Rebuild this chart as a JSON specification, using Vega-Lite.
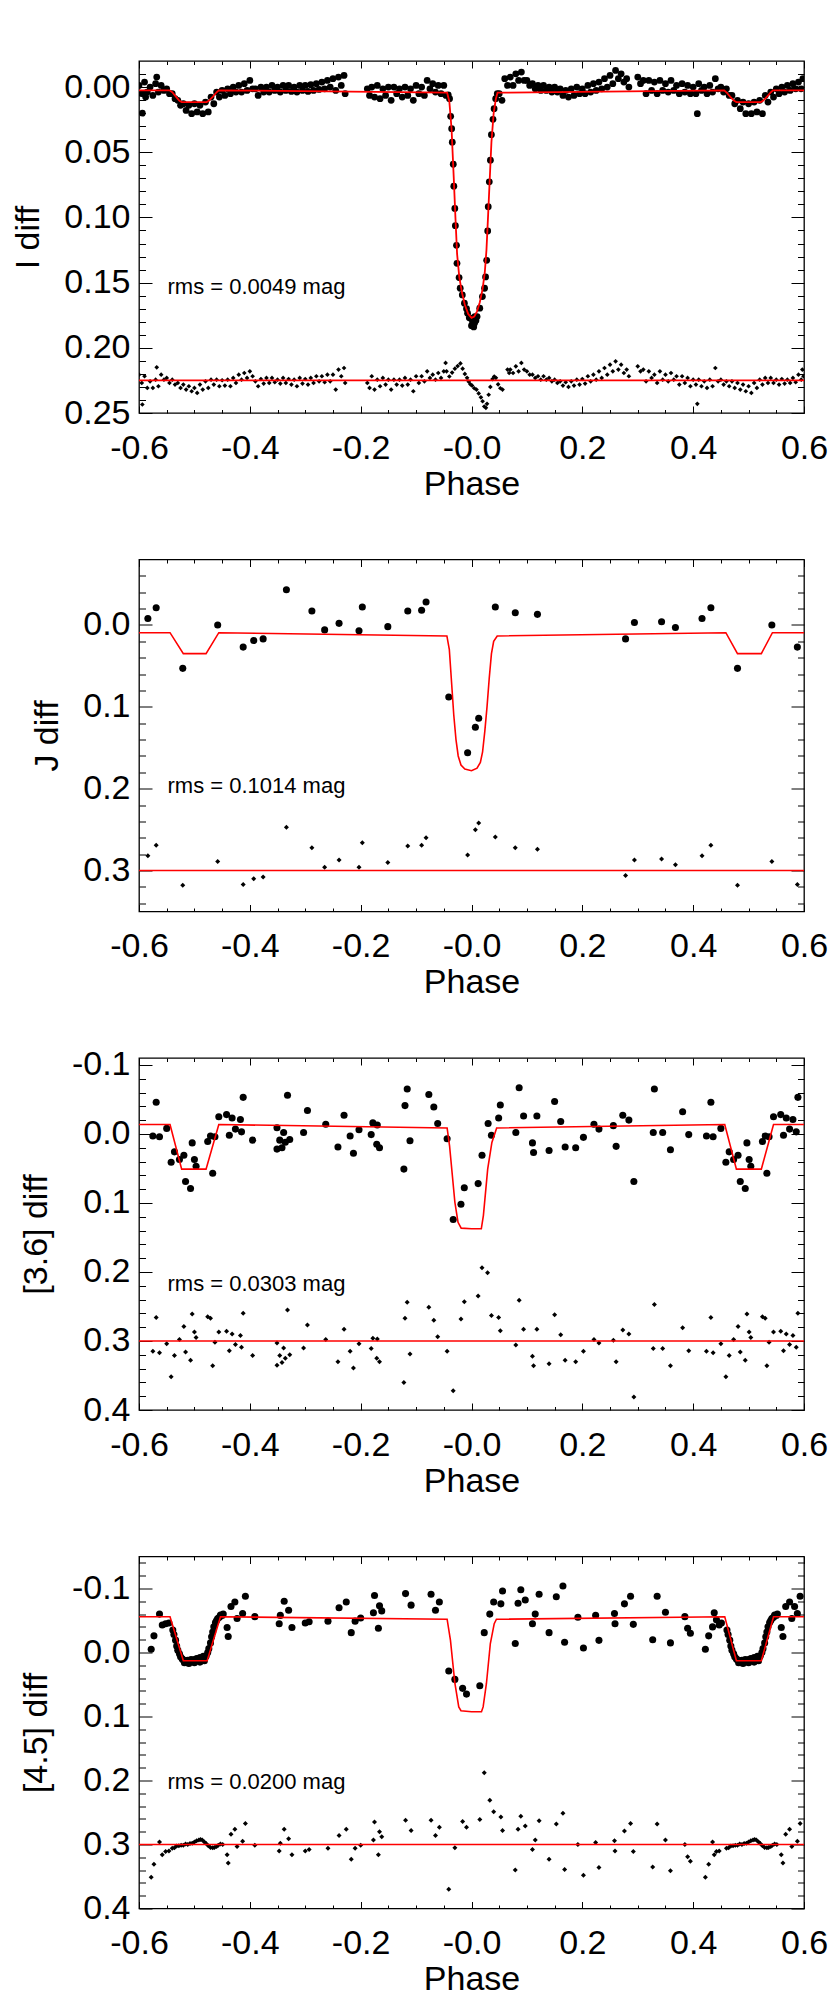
{
"$schema":"https://vega.github.io/schema/vega-lite/v6.json",
"autosize":{"type":"pad"},
"padding":{"left":11,"top":59,"right":0,"bottom":0},
"background":"white",
"bounds":"flush",
"spacing":146.5,
"config":{"axis":{"domain":false,"grid":false,"ticks":true,"tickColor":"black","tickWidth":1,"labelFont":"Liberation Sans","labelFontSize":34,"labelColor":"black","labelFlush":false,"labelOverlap":false,"labelBound":false,"titleFont":"Liberation Sans","titleFontSize":34,"titleFontWeight":"normal","titleColor":"black"},"view":{"stroke":"black","strokeWidth":1.3}},
"datasets":{
"d1":[{"x":-0.6,"y":-0.0013},{"x":-0.595,"y":0.0051},{"x":-0.594,"y":0.02},{"x":-0.59,"y":-0.0038},{"x":-0.585,"y":0.0038},{"x":-0.588,"y":0.0077},{"x":-0.58,"y":0},{"x":-0.575,"y":0.0064},{"x":-0.57,"y":-0.0026},{"x":-0.565,"y":0.0038},{"x":-0.568,"y":-0.0077},{"x":-0.56,"y":-0.0013},{"x":-0.555,"y":0.0026},{"x":-0.55,"y":0.0013},{"x":-0.545,"y":0.0051},{"x":-0.54,"y":0.0051},{"x":-0.535,"y":0.0089},{"x":-0.53,"y":0.0102},{"x":-0.525,"y":0.014},{"x":-0.52,"y":0.0128},{"x":-0.515,"y":0.0179},{"x":-0.51,"y":0.014},{"x":-0.505,"y":0.0204},{"x":-0.5,"y":0.0128},{"x":-0.495,"y":0.0191},{"x":-0.49,"y":0.014},{"x":-0.485,"y":0.0204},{"x":-0.48,"y":0.0115},{"x":-0.475,"y":0.0191},{"x":-0.47,"y":0.0077},{"x":-0.465,"y":0.0128},{"x":-0.46,"y":0.0038},{"x":-0.455,"y":0.0077},{"x":-0.45,"y":0.0026},{"x":-0.445,"y":0.0064},{"x":-0.44,"y":0.0013},{"x":-0.435,"y":0.0051},{"x":-0.43,"y":0},{"x":-0.425,"y":0.0038},{"x":-0.42,"y":-0.0013},{"x":-0.415,"y":0.0038},{"x":-0.41,"y":-0.0026},{"x":-0.405,"y":0.0026},{"x":-0.4,"y":-0.0051},{"x":-0.395,"y":0.0013},{"x":-0.39,"y":0.0013},{"x":-0.385,"y":0.0064},{"x":-0.38,"y":0},{"x":-0.375,"y":0.0038},{"x":-0.37,"y":0},{"x":-0.365,"y":0.0038},{"x":-0.36,"y":-0.0013},{"x":-0.355,"y":0.0026},{"x":-0.35,"y":0},{"x":-0.345,"y":0.0038},{"x":-0.34,"y":-0.0013},{"x":-0.335,"y":0.0026},{"x":-0.33,"y":-0.0013},{"x":-0.325,"y":0.0033},{"x":-0.32,"y":0},{"x":-0.315,"y":0.0038},{"x":-0.31,"y":-0.0013},{"x":-0.305,"y":0.0026},{"x":-0.3,"y":-0.0013},{"x":-0.295,"y":0.0033},{"x":-0.29,"y":-0.0018},{"x":-0.285,"y":0.0026},{"x":-0.28,"y":-0.0026},{"x":-0.275,"y":0.0018},{"x":-0.27,"y":-0.0038},{"x":-0.265,"y":0.0013},{"x":-0.26,"y":-0.0051},{"x":-0.255,"y":0},{"x":-0.25,"y":-0.0064},{"x":-0.245,"y":0.0026},{"x":-0.24,"y":-0.0077},{"x":-0.235,"y":-0.0013},{"x":-0.23,"y":-0.0089},{"x":-0.228,"y":0.0051},{"x":-0.188,"y":0.0013},{"x":-0.184,"y":0.0064},{"x":-0.18,"y":0},{"x":-0.175,"y":0.0077},{"x":-0.17,"y":-0.0013},{"x":-0.165,"y":0.0089},{"x":-0.16,"y":0.0013},{"x":-0.155,"y":0.0064},{"x":-0.15,"y":0},{"x":-0.145,"y":0.0102},{"x":-0.14,"y":0},{"x":-0.135,"y":0.0051},{"x":-0.13,"y":0.0013},{"x":-0.125,"y":0.0077},{"x":-0.12,"y":0},{"x":-0.115,"y":0.0064},{"x":-0.11,"y":0.0013},{"x":-0.105,"y":0.0102},{"x":-0.1,"y":-0.0013},{"x":-0.095,"y":0.0051},{"x":-0.09,"y":0},{"x":-0.085,"y":0.0064},{"x":-0.08,"y":-0.0051},{"x":-0.075,"y":0.0013},{"x":-0.07,"y":-0.0026},{"x":-0.065,"y":0.0038},{"x":-0.06,"y":-0.0013},{"x":-0.055,"y":0.0051},{"x":-0.05,"y":-0.0013},{"x":-0.046,"y":0.0064},{"x":-0.042,"y":0.006},{"x":-0.0396,"y":0.0089},{"x":-0.0376,"y":0.0224},{"x":-0.0358,"y":0.0319},{"x":-0.0347,"y":0.0423},{"x":-0.0329,"y":0.0592},{"x":-0.0319,"y":0.076},{"x":-0.0301,"y":0.0931},{"x":-0.0291,"y":0.1063},{"x":-0.0271,"y":0.1214},{"x":-0.0262,"y":0.1352},{"x":-0.0224,"y":0.1461},{"x":-0.0204,"y":0.1543},{"x":-0.0166,"y":0.1594},{"x":-0.0128,"y":0.1658},{"x":-0.009,"y":0.17},{"x":-0.0071,"y":0.1734},{"x":-0.004,"y":0.177},{"x":-0.0013,"y":0.1773},{"x":0,"y":0.183},{"x":0.002,"y":0.18},{"x":0.004,"y":0.184},{"x":0.0054,"y":0.1811},{"x":0.006,"y":0.176},{"x":0.008,"y":0.179},{"x":0.0101,"y":0.176},{"x":0.0149,"y":0.1696},{"x":0.0197,"y":0.1607},{"x":0.0236,"y":0.1543},{"x":0.0254,"y":0.1456},{"x":0.0274,"y":0.1329},{"x":0.0292,"y":0.1104},{"x":0.0302,"y":0.0918},{"x":0.0321,"y":0.0727},{"x":0.0341,"y":0.0561},{"x":0.0359,"y":0.0365},{"x":0.0388,"y":0.0247},{"x":0.0408,"y":0.0166},{"x":0.0436,"y":0.0089},{"x":0.0465,"y":0.0051},{"x":0.05,"y":0.0051},{"x":0.055,"y":0.0102},{"x":0.06,"y":-0.0064},{"x":0.065,"y":-0.0013},{"x":0.07,"y":-0.0077},{"x":0.075,"y":-0.0013},{"x":0.08,"y":-0.0102},{"x":0.085,"y":-0.0051},{"x":0.09,"y":-0.0115},{"x":0.095,"y":-0.0051},{"x":0.1,"y":-0.0051},{"x":0.105,"y":-0.0013},{"x":0.11,"y":-0.0026},{"x":0.115,"y":0.0013},{"x":0.12,"y":-0.0013},{"x":0.125,"y":0.0026},{"x":0.13,"y":-0.0013},{"x":0.135,"y":0.0026},{"x":0.14,"y":0},{"x":0.145,"y":0.0038},{"x":0.15,"y":0},{"x":0.155,"y":0.0038},{"x":0.16,"y":0.0013},{"x":0.165,"y":0.0064},{"x":0.17,"y":0.0026},{"x":0.175,"y":0.0077},{"x":0.18,"y":0.0013},{"x":0.185,"y":0.0064},{"x":0.19,"y":0},{"x":0.195,"y":0.0051},{"x":0.2,"y":0.0013},{"x":0.205,"y":0.0051},{"x":0.21,"y":-0.0013},{"x":0.215,"y":0.0038},{"x":0.22,"y":-0.0026},{"x":0.225,"y":0.0026},{"x":0.23,"y":-0.0038},{"x":0.235,"y":0.0013},{"x":0.24,"y":-0.0064},{"x":0.245,"y":0},{"x":0.25,"y":-0.0089},{"x":0.255,"y":-0.0026},{"x":0.26,"y":-0.0128},{"x":0.265,"y":-0.0064},{"x":0.27,"y":-0.0102},{"x":0.275,"y":-0.0038},{"x":0.28,"y":-0.0064},{"x":0.284,"y":0},{"x":0.3,"y":-0.0077},{"x":0.305,"y":-0.0026},{"x":0.31,"y":-0.0051},{"x":0.315,"y":0.0051},{"x":0.32,"y":-0.0051},{"x":0.325,"y":0.0026},{"x":0.33,"y":-0.0038},{"x":0.335,"y":0.0051},{"x":0.34,"y":-0.0051},{"x":0.345,"y":0.0026},{"x":0.35,"y":-0.0026},{"x":0.355,"y":0.0038},{"x":0.36,"y":-0.0051},{"x":0.365,"y":0.0026},{"x":0.37,"y":-0.0013},{"x":0.375,"y":0.0051},{"x":0.38,"y":-0.0026},{"x":0.385,"y":0.0038},{"x":0.39,"y":-0.0013},{"x":0.395,"y":0.0051},{"x":0.4,"y":0},{"x":0.405,"y":0.0051},{"x":0.41,"y":-0.0026},{"x":0.415,"y":0.0026},{"x":0.4075,"y":0.0204},{"x":0.42,"y":0},{"x":0.425,"y":0.0051},{"x":0.43,"y":-0.0013},{"x":0.435,"y":0.0038},{"x":0.44,"y":-0.0064},{"x":0.445,"y":0.0013},{"x":0.45,"y":0},{"x":0.455,"y":0.0038},{"x":0.46,"y":0.0013},{"x":0.465,"y":0.0064},{"x":0.47,"y":0.0064},{"x":0.475,"y":0.0128},{"x":0.48,"y":0.0102},{"x":0.485,"y":0.0166},{"x":0.49,"y":0.0115},{"x":0.495,"y":0.0204},{"x":0.5,"y":0.0128},{"x":0.505,"y":0.0204},{"x":0.51,"y":0.0115},{"x":0.515,"y":0.0191},{"x":0.52,"y":0.0102},{"x":0.525,"y":0.0204},{"x":0.53,"y":0.0064},{"x":0.535,"y":0.0115},{"x":0.54,"y":0.0038},{"x":0.545,"y":0.0077},{"x":0.55,"y":0.0013},{"x":0.555,"y":0.0051},{"x":0.56,"y":0},{"x":0.565,"y":0.0038},{"x":0.57,"y":-0.0013},{"x":0.575,"y":0.0026},{"x":0.58,"y":-0.0026},{"x":0.585,"y":0.0013},{"x":0.59,"y":-0.0038},{"x":0.595,"y":0.0013},{"x":0.598,"y":-0.0064}],
"r1":[{"x":-0.6,"y":0.2206},{"x":-0.595,"y":0.2269},{"x":-0.594,"y":0.2435},{"x":-0.59,"y":0.2218},{"x":-0.585,"y":0.2308},{"x":-0.58,"y":0.2257},{"x":-0.575,"y":0.2308},{"x":-0.57,"y":0.2244},{"x":-0.565,"y":0.2295},{"x":-0.568,"y":0.215},{"x":-0.56,"y":0.2206},{"x":-0.555,"y":0.2244},{"x":-0.55,"y":0.2231},{"x":-0.545,"y":0.2269},{"x":-0.54,"y":0.2244},{"x":-0.535,"y":0.2282},{"x":-0.53,"y":0.2269},{"x":-0.525,"y":0.2308},{"x":-0.52,"y":0.2282},{"x":-0.515,"y":0.232},{"x":-0.51,"y":0.2295},{"x":-0.505,"y":0.2333},{"x":-0.5,"y":0.2308},{"x":-0.495,"y":0.2346},{"x":-0.49,"y":0.2282},{"x":-0.485,"y":0.232},{"x":-0.48,"y":0.2257},{"x":-0.475,"y":0.2308},{"x":-0.47,"y":0.2244},{"x":-0.465,"y":0.2282},{"x":-0.46,"y":0.2244},{"x":-0.455,"y":0.2295},{"x":-0.45,"y":0.2249},{"x":-0.445,"y":0.229},{"x":-0.44,"y":0.2244},{"x":-0.435,"y":0.2295},{"x":-0.43,"y":0.2231},{"x":-0.425,"y":0.2269},{"x":-0.42,"y":0.2206},{"x":-0.415,"y":0.2244},{"x":-0.41,"y":0.2193},{"x":-0.405,"y":0.2231},{"x":-0.4,"y":0.218},{"x":-0.395,"y":0.2218},{"x":-0.39,"y":0.2257},{"x":-0.385,"y":0.2295},{"x":-0.38,"y":0.2239},{"x":-0.375,"y":0.2274},{"x":-0.37,"y":0.2231},{"x":-0.365,"y":0.2269},{"x":-0.36,"y":0.2231},{"x":-0.355,"y":0.2264},{"x":-0.35,"y":0.2244},{"x":-0.345,"y":0.2274},{"x":-0.34,"y":0.2231},{"x":-0.335,"y":0.2269},{"x":-0.33,"y":0.2239},{"x":-0.325,"y":0.2282},{"x":-0.32,"y":0.2244},{"x":-0.315,"y":0.2295},{"x":-0.31,"y":0.2231},{"x":-0.305,"y":0.2274},{"x":-0.3,"y":0.2239},{"x":-0.295,"y":0.2282},{"x":-0.29,"y":0.2231},{"x":-0.285,"y":0.2269},{"x":-0.28,"y":0.2218},{"x":-0.275,"y":0.2257},{"x":-0.27,"y":0.2218},{"x":-0.265,"y":0.2264},{"x":-0.26,"y":0.2206},{"x":-0.255,"y":0.2257},{"x":-0.25,"y":0.2206},{"x":-0.245,"y":0.232},{"x":-0.24,"y":0.2167},{"x":-0.235,"y":0.2218},{"x":-0.23,"y":0.2155},{"x":-0.228,"y":0.2269},{"x":-0.188,"y":0.2269},{"x":-0.184,"y":0.2308},{"x":-0.18,"y":0.2218},{"x":-0.175,"y":0.232},{"x":-0.17,"y":0.2244},{"x":-0.165,"y":0.2295},{"x":-0.16,"y":0.2231},{"x":-0.155,"y":0.2282},{"x":-0.15,"y":0.2244},{"x":-0.145,"y":0.232},{"x":-0.14,"y":0.2244},{"x":-0.135,"y":0.2282},{"x":-0.13,"y":0.2244},{"x":-0.125,"y":0.229},{"x":-0.12,"y":0.2231},{"x":-0.115,"y":0.2282},{"x":-0.11,"y":0.2244},{"x":-0.105,"y":0.2333},{"x":-0.1,"y":0.2218},{"x":-0.095,"y":0.2269},{"x":-0.09,"y":0.2218},{"x":-0.085,"y":0.2257},{"x":-0.08,"y":0.218},{"x":-0.075,"y":0.2231},{"x":-0.07,"y":0.2206},{"x":-0.065,"y":0.2244},{"x":-0.06,"y":0.2193},{"x":-0.055,"y":0.2231},{"x":-0.05,"y":0.218},{"x":-0.0467,"y":0.2116},{"x":-0.045,"y":0.218},{"x":-0.04,"y":0.222},{"x":-0.035,"y":0.219},{"x":-0.03,"y":0.216},{"x":-0.025,"y":0.214},{"x":-0.02,"y":0.212},{"x":-0.016,"y":0.216},{"x":-0.012,"y":0.22},{"x":-0.008,"y":0.223},{"x":-0.005,"y":0.226},{"x":-0.002,"y":0.228},{"x":0.001,"y":0.229},{"x":0.005,"y":0.231},{"x":0.009,"y":0.232},{"x":0.013,"y":0.235},{"x":0.017,"y":0.238},{"x":0.02,"y":0.241},{"x":0.023,"y":0.245},{"x":0.026,"y":0.246},{"x":0.028,"y":0.243},{"x":0.031,"y":0.236},{"x":0.034,"y":0.23},{"x":0.038,"y":0.224},{"x":0.041,"y":0.222},{"x":0.044,"y":0.223},{"x":0.048,"y":0.228},{"x":0.052,"y":0.231},{"x":0.056,"y":0.232},{"x":0.065,"y":0.2167},{"x":0.068,"y":0.2193},{"x":0.07,"y":0.2167},{"x":0.075,"y":0.2193},{"x":0.08,"y":0.2142},{"x":0.085,"y":0.218},{"x":0.09,"y":0.2116},{"x":0.095,"y":0.2167},{"x":0.1,"y":0.218},{"x":0.105,"y":0.2206},{"x":0.11,"y":0.2206},{"x":0.115,"y":0.2231},{"x":0.12,"y":0.2218},{"x":0.125,"y":0.2244},{"x":0.13,"y":0.2218},{"x":0.135,"y":0.2244},{"x":0.14,"y":0.2231},{"x":0.145,"y":0.2257},{"x":0.15,"y":0.2244},{"x":0.155,"y":0.2269},{"x":0.16,"y":0.2257},{"x":0.165,"y":0.229},{"x":0.17,"y":0.2264},{"x":0.175,"y":0.23},{"x":0.18,"y":0.2257},{"x":0.185,"y":0.229},{"x":0.19,"y":0.2244},{"x":0.195,"y":0.2282},{"x":0.2,"y":0.2239},{"x":0.205,"y":0.2274},{"x":0.21,"y":0.2218},{"x":0.215,"y":0.2257},{"x":0.22,"y":0.2206},{"x":0.225,"y":0.2244},{"x":0.23,"y":0.218},{"x":0.235,"y":0.2231},{"x":0.24,"y":0.2155},{"x":0.245,"y":0.2206},{"x":0.25,"y":0.2129},{"x":0.255,"y":0.218},{"x":0.26,"y":0.2104},{"x":0.265,"y":0.2167},{"x":0.27,"y":0.2129},{"x":0.275,"y":0.2193},{"x":0.28,"y":0.2167},{"x":0.284,"y":0.2218},{"x":0.3,"y":0.2142},{"x":0.305,"y":0.218},{"x":0.31,"y":0.2167},{"x":0.315,"y":0.2257},{"x":0.32,"y":0.218},{"x":0.325,"y":0.2231},{"x":0.33,"y":0.2206},{"x":0.335,"y":0.2269},{"x":0.34,"y":0.218},{"x":0.345,"y":0.2244},{"x":0.35,"y":0.2206},{"x":0.355,"y":0.2257},{"x":0.36,"y":0.2193},{"x":0.365,"y":0.2244},{"x":0.37,"y":0.2218},{"x":0.375,"y":0.2282},{"x":0.38,"y":0.2218},{"x":0.385,"y":0.2269},{"x":0.39,"y":0.2231},{"x":0.395,"y":0.2295},{"x":0.4,"y":0.2244},{"x":0.405,"y":0.2282},{"x":0.41,"y":0.2244},{"x":0.415,"y":0.2295},{"x":0.4075,"y":0.243},{"x":0.42,"y":0.2257},{"x":0.425,"y":0.2308},{"x":0.43,"y":0.2244},{"x":0.435,"y":0.2295},{"x":0.44,"y":0.2155},{"x":0.445,"y":0.2257},{"x":0.45,"y":0.2244},{"x":0.455,"y":0.2282},{"x":0.46,"y":0.2257},{"x":0.465,"y":0.2295},{"x":0.47,"y":0.2257},{"x":0.475,"y":0.2308},{"x":0.48,"y":0.2269},{"x":0.485,"y":0.232},{"x":0.49,"y":0.2282},{"x":0.495,"y":0.2333},{"x":0.5,"y":0.2295},{"x":0.505,"y":0.2346},{"x":0.51,"y":0.2269},{"x":0.515,"y":0.2308},{"x":0.52,"y":0.2244},{"x":0.525,"y":0.2282},{"x":0.53,"y":0.2231},{"x":0.535,"y":0.2269},{"x":0.54,"y":0.2231},{"x":0.545,"y":0.2269},{"x":0.55,"y":0.2244},{"x":0.555,"y":0.2282},{"x":0.56,"y":0.2239},{"x":0.565,"y":0.2274},{"x":0.57,"y":0.2244},{"x":0.575,"y":0.2269},{"x":0.58,"y":0.2231},{"x":0.585,"y":0.2264},{"x":0.59,"y":0.2206},{"x":0.595,"y":0.2244},{"x":0.597,"y":0.2167},{"x":0.599,"y":0.2218}],
"m1":[{"x":-0.6,"y":0.0025},{"x":-0.545,"y":0.0025},{"x":-0.54,"y":0.004},{"x":-0.533,"y":0.0075},{"x":-0.527,"y":0.0105},{"x":-0.523,"y":0.0115},{"x":-0.478,"y":0.0115},{"x":-0.474,"y":0.0105},{"x":-0.467,"y":0.0075},{"x":-0.46,"y":0.004},{"x":-0.456,"y":0.0025},{"x":-0.044,"y":0.0043},{"x":-0.04,"y":0.011},{"x":-0.036,"y":0.032},{"x":-0.032,"y":0.07},{"x":-0.029,"y":0.1},{"x":-0.026,"y":0.128},{"x":-0.022,"y":0.146},{"x":-0.017,"y":0.158},{"x":-0.012,"y":0.167},{"x":-0.006,"y":0.174},{"x":0,"y":0.177},{"x":0.005,"y":0.176},{"x":0.01,"y":0.172},{"x":0.015,"y":0.165},{"x":0.02,"y":0.155},{"x":0.024,"y":0.142},{"x":0.027,"y":0.125},{"x":0.03,"y":0.098},{"x":0.033,"y":0.07},{"x":0.036,"y":0.042},{"x":0.04,"y":0.02},{"x":0.044,"y":0.009},{"x":0.047,"y":0.0043},{"x":0.456,"y":0.0025},{"x":0.46,"y":0.004},{"x":0.467,"y":0.0075},{"x":0.474,"y":0.0105},{"x":0.478,"y":0.0115},{"x":0.522,"y":0.0115},{"x":0.526,"y":0.0105},{"x":0.533,"y":0.0075},{"x":0.54,"y":0.004},{"x":0.544,"y":0.0025},{"x":0.6,"y":0.0025}],
"d2":[{"x":-0.584,"y":-0.008},{"x":-0.569,"y":-0.021},{"x":-0.521,"y":0.053},{"x":-0.458,"y":0.0},{"x":-0.412,"y":0.027},{"x":-0.393,"y":0.019},{"x":-0.376,"y":0.017},{"x":-0.334,"y":-0.043},{"x":-0.288,"y":-0.017},{"x":-0.265,"y":0.006},{"x":-0.239,"y":-0.002},{"x":-0.203,"y":0.007},{"x":-0.197,"y":-0.022},{"x":-0.151,"y":0.002},{"x":-0.115,"y":-0.017},{"x":-0.09,"y":-0.018},{"x":-0.082,"y":-0.028},{"x":-0.041,"y":0.088},{"x":-0.007,"y":0.156},{"x":0.007,"y":0.125},{"x":0.013,"y":0.114},{"x":0.043,"y":-0.022},{"x":0.079,"y":-0.015},{"x":0.119,"y":-0.013},{"x":0.278,"y":0.017},{"x":0.294,"y":-0.003},{"x":0.343,"y":-0.004},{"x":0.368,"y":0.003},{"x":0.416,"y":-0.008},{"x":0.432,"y":-0.021},{"x":0.48,"y":0.053},{"x":0.542,"y":0.0},{"x":0.588,"y":0.027}],
"r2":[{"x":-0.584,"y":0.282},{"x":-0.569,"y":0.269},{"x":-0.521,"y":0.318},{"x":-0.458,"y":0.289},{"x":-0.412,"y":0.317},{"x":-0.393,"y":0.31},{"x":-0.376,"y":0.308},{"x":-0.334,"y":0.247},{"x":-0.288,"y":0.272},{"x":-0.265,"y":0.296},{"x":-0.239,"y":0.287},{"x":-0.203,"y":0.296},{"x":-0.197,"y":0.266},{"x":-0.151,"y":0.29},{"x":-0.115,"y":0.27},{"x":-0.09,"y":0.269},{"x":-0.082,"y":0.26},{"x":-0.007,"y":0.281},{"x":0.007,"y":0.25},{"x":0.013,"y":0.242},{"x":0.043,"y":0.259},{"x":0.079,"y":0.272},{"x":0.119,"y":0.274},{"x":0.278,"y":0.306},{"x":0.294,"y":0.287},{"x":0.343,"y":0.286},{"x":0.368,"y":0.293},{"x":0.416,"y":0.282},{"x":0.432,"y":0.269},{"x":0.48,"y":0.318},{"x":0.542,"y":0.289},{"x":0.588,"y":0.317}],
"m2":[{"x":-0.6,"y":0.0094},{"x":-0.544,"y":0.0094},{"x":-0.52,"y":0.035},{"x":-0.479,"y":0.035},{"x":-0.456,"y":0.0094},{"x":-0.0444,"y":0.0134},{"x":-0.04,"y":0.03},{"x":-0.036,"y":0.07},{"x":-0.032,"y":0.11},{"x":-0.028,"y":0.14},{"x":-0.024,"y":0.16},{"x":-0.019,"y":0.171},{"x":-0.012,"y":0.176},{"x":0,"y":0.178},{"x":0.01,"y":0.175},{"x":0.016,"y":0.168},{"x":0.02,"y":0.155},{"x":0.024,"y":0.13},{"x":0.028,"y":0.1},{"x":0.032,"y":0.065},{"x":0.036,"y":0.035},{"x":0.04,"y":0.02},{"x":0.0464,"y":0.0134},{"x":0.459,"y":0.0094},{"x":0.48,"y":0.035},{"x":0.523,"y":0.035},{"x":0.543,"y":0.0094},{"x":0.6,"y":0.0094}],
"d3":[{"x":-0.575,"y":0.003},{"x":-0.569,"y":-0.046},{"x":-0.563,"y":0.004},{"x":-0.55,"y":-0.008},{"x":-0.542,"y":0.041},{"x":-0.536,"y":0.026},{"x":-0.527,"y":0.037},{"x":-0.519,"y":0.031},{"x":-0.516,"y":0.069},{"x":-0.507,"y":0.079},{"x":-0.504,"y":0.013},{"x":-0.5,"y":0.037},{"x":-0.497,"y":0.047},{"x":-0.476,"y":0.011},{"x":-0.471,"y":0.003},{"x":-0.467,"y":0.057},{"x":-0.463,"y":0.004},{"x":-0.456,"y":-0.025},{"x":-0.442,"y":-0.028},{"x":-0.437,"y":0.002},{"x":-0.432,"y":-0.023},{"x":-0.426,"y":-0.007},{"x":-0.417,"y":-0.021},{"x":-0.412,"y":-0.053},{"x":-0.415,"y":-0.003},{"x":-0.395,"y":0.009},{"x":-0.351,"y":-0.009},{"x":-0.351,"y":0.022},{"x":-0.346,"y":0.009},{"x":-0.342,"y":0.02},{"x":-0.339,"y":-0.002},{"x":-0.336,"y":0.012},{"x":-0.332,"y":-0.056},{"x":-0.328,"y":0.008},{"x":-0.303,"y":-0.002},{"x":-0.296,"y":-0.034},{"x":-0.263,"y":-0.014},{"x":-0.241,"y":0.019},{"x":-0.23,"y":-0.027},{"x":-0.219,"y":0.003},{"x":-0.213,"y":0.028},{"x":-0.203,"y":-0.006},{"x":-0.181,"y":0.001},{"x":-0.178,"y":-0.016},{"x":-0.171,"y":0.015},{"x":-0.17,"y":-0.013},{"x":-0.166,"y":0.02},{"x":-0.122,"y":0.051},{"x":-0.12,"y":-0.041},{"x":-0.116,"y":-0.065},{"x":-0.111,"y":0.01},{"x":-0.077,"y":-0.057},{"x":-0.068,"y":-0.039},{"x":-0.061,"y":-0.015},{"x":-0.044,"y":0.007},{"x":-0.033,"y":0.124},{"x":-0.019,"y":0.102},{"x":-0.013,"y":0.078},{"x":0.012,"y":0.072},{"x":0.019,"y":0.031},{"x":0.03,"y":-0.015},{"x":0.036,"y":0.002},{"x":0.049,"y":-0.023},{"x":0.052,"y":-0.042},{"x":0.08,"y":-0.002},{"x":0.086,"y":-0.067},{"x":0.094,"y":-0.026},{"x":0.11,"y":0.013},{"x":0.112,"y":0.027},{"x":0.118,"y":-0.026},{"x":0.14,"y":0.024},{"x":0.15,"y":-0.047},{"x":0.161,"y":-0.018},{"x":0.169,"y":0.019},{"x":0.188,"y":0.02},{"x":0.202,"y":0.005},{"x":0.221,"y":-0.014},{"x":0.23,"y":-0.007},{"x":0.256,"y":-0.012},{"x":0.261,"y":0.018},{"x":0.273,"y":-0.027},{"x":0.284,"y":-0.02},{"x":0.293,"y":0.069},{"x":0.328,"y":-0.002},{"x":0.33,"y":-0.065},{"x":0.345,"y":-0.002},{"x":0.359,"y":0.023},{"x":0.381,"y":-0.032},{"x":0.392,"y":0.001},{"x":0.424,"y":0.003},{"x":0.432,"y":-0.046},{"x":0.436,"y":0.004},{"x":0.45,"y":-0.008},{"x":0.459,"y":0.041},{"x":0.465,"y":0.026},{"x":0.473,"y":0.037},{"x":0.481,"y":0.031},{"x":0.485,"y":0.069},{"x":0.494,"y":0.079},{"x":0.497,"y":0.013},{"x":0.501,"y":0.037},{"x":0.504,"y":0.047},{"x":0.525,"y":0.011},{"x":0.53,"y":0.003},{"x":0.533,"y":0.057},{"x":0.537,"y":0.004},{"x":0.545,"y":-0.025},{"x":0.558,"y":-0.028},{"x":0.563,"y":0.002},{"x":0.568,"y":-0.023},{"x":0.574,"y":-0.007},{"x":0.58,"y":-0.021},{"x":0.589,"y":-0.053},{"x":0.586,"y":-0.003}],
"r3":[{"x":-0.575,"y":0.315},{"x":-0.569,"y":0.266},{"x":-0.563,"y":0.317},{"x":-0.55,"y":0.304},{"x":-0.542,"y":0.352},{"x":-0.536,"y":0.321},{"x":-0.527,"y":0.298},{"x":-0.519,"y":0.279},{"x":-0.516,"y":0.316},{"x":-0.507,"y":0.328},{"x":-0.504,"y":0.261},{"x":-0.5,"y":0.287},{"x":-0.497,"y":0.295},{"x":-0.476,"y":0.265},{"x":-0.471,"y":0.267},{"x":-0.467,"y":0.336},{"x":-0.463,"y":0.302},{"x":-0.456,"y":0.287},{"x":-0.442,"y":0.286},{"x":-0.437,"y":0.314},{"x":-0.432,"y":0.29},{"x":-0.426,"y":0.305},{"x":-0.417,"y":0.292},{"x":-0.412,"y":0.26},{"x":-0.415,"y":0.309},{"x":-0.395,"y":0.321},{"x":-0.351,"y":0.303},{"x":-0.351,"y":0.335},{"x":-0.346,"y":0.321},{"x":-0.342,"y":0.331},{"x":-0.339,"y":0.31},{"x":-0.336,"y":0.325},{"x":-0.332,"y":0.255},{"x":-0.328,"y":0.32},{"x":-0.303,"y":0.31},{"x":-0.296,"y":0.277},{"x":-0.263,"y":0.298},{"x":-0.241,"y":0.33},{"x":-0.23,"y":0.283},{"x":-0.219,"y":0.315},{"x":-0.213,"y":0.339},{"x":-0.203,"y":0.304},{"x":-0.181,"y":0.311},{"x":-0.178,"y":0.296},{"x":-0.171,"y":0.325},{"x":-0.17,"y":0.297},{"x":-0.166,"y":0.33},{"x":-0.122,"y":0.36},{"x":-0.12,"y":0.267},{"x":-0.116,"y":0.244},{"x":-0.111,"y":0.319},{"x":-0.077,"y":0.251},{"x":-0.068,"y":0.27},{"x":-0.061,"y":0.294},{"x":-0.044,"y":0.315},{"x":-0.033,"y":0.372},{"x":-0.019,"y":0.268},{"x":-0.013,"y":0.243},{"x":0.012,"y":0.235},{"x":0.019,"y":0.194},{"x":0.029,"y":0.201},{"x":0.036,"y":0.263},{"x":0.049,"y":0.266},{"x":0.052,"y":0.285},{"x":0.08,"y":0.306},{"x":0.086,"y":0.241},{"x":0.094,"y":0.283},{"x":0.11,"y":0.322},{"x":0.112,"y":0.336},{"x":0.118,"y":0.283},{"x":0.14,"y":0.333},{"x":0.15,"y":0.262},{"x":0.161,"y":0.291},{"x":0.169,"y":0.328},{"x":0.188,"y":0.33},{"x":0.202,"y":0.315},{"x":0.221,"y":0.298},{"x":0.23,"y":0.303},{"x":0.256,"y":0.299},{"x":0.261,"y":0.33},{"x":0.273,"y":0.284},{"x":0.284,"y":0.29},{"x":0.293,"y":0.381},{"x":0.328,"y":0.311},{"x":0.33,"y":0.247},{"x":0.345,"y":0.311},{"x":0.359,"y":0.336},{"x":0.381,"y":0.281},{"x":0.392,"y":0.314},{"x":0.424,"y":0.315},{"x":0.432,"y":0.266},{"x":0.436,"y":0.317},{"x":0.45,"y":0.304},{"x":0.459,"y":0.352},{"x":0.465,"y":0.321},{"x":0.473,"y":0.298},{"x":0.481,"y":0.279},{"x":0.485,"y":0.316},{"x":0.494,"y":0.328},{"x":0.497,"y":0.261},{"x":0.501,"y":0.287},{"x":0.504,"y":0.295},{"x":0.525,"y":0.265},{"x":0.53,"y":0.267},{"x":0.533,"y":0.336},{"x":0.537,"y":0.302},{"x":0.545,"y":0.287},{"x":0.558,"y":0.286},{"x":0.563,"y":0.314},{"x":0.568,"y":0.29},{"x":0.574,"y":0.305},{"x":0.58,"y":0.292},{"x":0.589,"y":0.26},{"x":0.586,"y":0.309}],
"m3":[{"x":-0.6,"y":-0.0136},{"x":-0.544,"y":-0.0136},{"x":-0.523,"y":0.051},{"x":-0.479,"y":0.051},{"x":-0.456,"y":-0.0136},{"x":-0.044,"y":-0.0087},{"x":-0.0396,"y":0.0172},{"x":-0.03,"y":0.099},{"x":-0.0243,"y":0.128},{"x":-0.0186,"y":0.1365},{"x":0,"y":0.1375},{"x":0.0177,"y":0.1375},{"x":0.0215,"y":0.118},{"x":0.0292,"y":0.051},{"x":0.0368,"y":0.0124},{"x":0.0454,"y":-0.0087},{"x":0.457,"y":-0.0136},{"x":0.478,"y":0.051},{"x":0.523,"y":0.051},{"x":0.545,"y":-0.0136},{"x":0.6,"y":-0.0136}],
"d4":[{"x":-0.578,"y":-0.005},{"x":-0.573,"y":-0.026},{"x":-0.563,"y":-0.06},{"x":-0.558,"y":-0.043},{"x":-0.552,"y":-0.045},{"x":-0.546,"y":-0.046},{"x":-0.539,"y":-0.035},{"x":-0.537,"y":-0.028},{"x":-0.534,"y":-0.0193},{"x":-0.532,"y":-0.01},{"x":-0.53,"y":-0.0037},{"x":-0.527,"y":0.002},{"x":-0.525,"y":0.0067},{"x":-0.522,"y":0.01},{"x":-0.52,"y":0.0119},{"x":-0.517,"y":0.013},{"x":-0.515,"y":0.014},{"x":-0.512,"y":0.012},{"x":-0.509,"y":0.013},{"x":-0.506,"y":0.0109},{"x":-0.503,"y":0.013},{"x":-0.5,"y":0.011},{"x":-0.496,"y":0.0093},{"x":-0.493,"y":0.012},{"x":-0.49,"y":0.008},{"x":-0.487,"y":0.0093},{"x":-0.484,"y":0.006},{"x":-0.481,"y":0.008},{"x":-0.479,"y":0.0057},{"x":-0.476,"y":0.0},{"x":-0.474,"y":-0.006},{"x":-0.471,"y":-0.015},{"x":-0.469,"y":-0.0246},{"x":-0.467,"y":-0.032},{"x":-0.465,"y":-0.0402},{"x":-0.462,"y":-0.047},{"x":-0.46,"y":-0.05},{"x":-0.458,"y":-0.0532},{"x":-0.455,"y":-0.055},{"x":-0.453,"y":-0.0584},{"x":-0.45,"y":-0.058},{"x":-0.448,"y":-0.06},{"x":-0.518,"y":0.016},{"x":-0.51,"y":0.017},{"x":-0.5,"y":0.016},{"x":-0.49,"y":0.015},{"x":-0.482,"y":0.013},{"x":-0.441,"y":-0.039},{"x":-0.439,"y":-0.025},{"x":-0.434,"y":-0.072},{"x":-0.427,"y":-0.079},{"x":-0.423,"y":-0.053},{"x":-0.413,"y":-0.061},{"x":-0.408,"y":-0.088},{"x":-0.391,"y":-0.056},{"x":-0.347,"y":-0.045},{"x":-0.345,"y":-0.058},{"x":-0.338,"y":-0.08},{"x":-0.33,"y":-0.066},{"x":-0.324,"y":-0.039},{"x":-0.3,"y":-0.046},{"x":-0.293,"y":-0.048},{"x":-0.259,"y":-0.049},{"x":-0.239,"y":-0.07},{"x":-0.226,"y":-0.079},{"x":-0.217,"y":-0.031},{"x":-0.21,"y":-0.049},{"x":-0.2,"y":-0.054},{"x":-0.177,"y":-0.062},{"x":-0.175,"y":-0.089},{"x":-0.168,"y":-0.038},{"x":-0.166,"y":-0.073},{"x":-0.162,"y":-0.065},{"x":-0.119,"y":-0.092},{"x":-0.109,"y":-0.074},{"x":-0.073,"y":-0.091},{"x":-0.065,"y":-0.066},{"x":-0.058,"y":-0.079},{"x":-0.041,"y":0.029},{"x":-0.03,"y":0.042},{"x":-0.016,"y":0.056},{"x":-0.009,"y":0.065},{"x":0.015,"y":0.052},{"x":0.023,"y":-0.031},{"x":0.033,"y":-0.06},{"x":0.04,"y":-0.079},{"x":0.053,"y":-0.076},{"x":0.056,"y":-0.096},{"x":0.079,"y":-0.014},{"x":0.084,"y":-0.077},{"x":0.089,"y":-0.098},{"x":0.097,"y":-0.082},{"x":0.11,"y":-0.045},{"x":0.115,"y":-0.06},{"x":0.122,"y":-0.091},{"x":0.14,"y":-0.031},{"x":0.153,"y":-0.087},{"x":0.165,"y":-0.104},{"x":0.168,"y":-0.016},{"x":0.192,"y":-0.055},{"x":0.202,"y":-0.007},{"x":0.224,"y":-0.058},{"x":0.23,"y":-0.019},{"x":0.258,"y":-0.061},{"x":0.259,"y":-0.045},{"x":0.276,"y":-0.076},{"x":0.287,"y":-0.088},{"x":0.292,"y":-0.044},{"x":0.327,"y":-0.02},{"x":0.335,"y":-0.088},{"x":0.35,"y":-0.063},{"x":0.359,"y":-0.015},{"x":0.385,"y":-0.056},{"x":0.39,"y":-0.038},{"x":0.395,"y":-0.03},{"x":0.422,"y":-0.005},{"x":0.428,"y":-0.026},{"x":0.435,"y":-0.04},{"x":0.438,"y":-0.062},{"x":0.442,"y":-0.051},{"x":0.447,"y":-0.043},{"x":0.451,"y":-0.046},{"x":0.461,"y":-0.035},{"x":0.463,"y":-0.028},{"x":0.466,"y":-0.0193},{"x":0.468,"y":-0.01},{"x":0.47,"y":-0.0037},{"x":0.473,"y":0.002},{"x":0.475,"y":0.0067},{"x":0.478,"y":0.01},{"x":0.48,"y":0.0119},{"x":0.483,"y":0.013},{"x":0.485,"y":0.014},{"x":0.488,"y":0.012},{"x":0.491,"y":0.013},{"x":0.494,"y":0.0109},{"x":0.497,"y":0.013},{"x":0.5,"y":0.011},{"x":0.504,"y":0.0093},{"x":0.507,"y":0.012},{"x":0.51,"y":0.008},{"x":0.513,"y":0.0093},{"x":0.516,"y":0.006},{"x":0.519,"y":0.008},{"x":0.521,"y":0.0057},{"x":0.524,"y":0.0},{"x":0.526,"y":-0.006},{"x":0.529,"y":-0.015},{"x":0.531,"y":-0.0246},{"x":0.533,"y":-0.032},{"x":0.535,"y":-0.0402},{"x":0.538,"y":-0.047},{"x":0.54,"y":-0.05},{"x":0.542,"y":-0.0532},{"x":0.545,"y":-0.055},{"x":0.547,"y":-0.0584},{"x":0.55,"y":-0.058},{"x":0.552,"y":-0.06},{"x":0.482,"y":0.016},{"x":0.49,"y":0.017},{"x":0.5,"y":0.016},{"x":0.51,"y":0.015},{"x":0.518,"y":0.013},{"x":0.559,"y":-0.039},{"x":0.562,"y":-0.025},{"x":0.567,"y":-0.072},{"x":0.574,"y":-0.079},{"x":0.578,"y":-0.053},{"x":0.588,"y":-0.061},{"x":0.593,"y":-0.088},{"x":0.583,"y":-0.072}],
"r4":[{"x":-0.578,"y":0.351},{"x":-0.573,"y":0.331},{"x":-0.563,"y":0.296},{"x":-0.558,"y":0.316},{"x":-0.552,"y":0.311},{"x":-0.546,"y":0.31},{"x":-0.54,"y":0.306},{"x":-0.536,"y":0.305},{"x":-0.532,"y":0.3025},{"x":-0.528,"y":0.302},{"x":-0.524,"y":0.301},{"x":-0.52,"y":0.301},{"x":-0.516,"y":0.2994},{"x":-0.512,"y":0.3},{"x":-0.508,"y":0.2984},{"x":-0.504,"y":0.298},{"x":-0.5,"y":0.296},{"x":-0.496,"y":0.2942},{"x":-0.492,"y":0.293},{"x":-0.489,"y":0.2921},{"x":-0.486,"y":0.293},{"x":-0.482,"y":0.296},{"x":-0.479,"y":0.2984},{"x":-0.475,"y":0.302},{"x":-0.471,"y":0.3046},{"x":-0.467,"y":0.305},{"x":-0.464,"y":0.3046},{"x":-0.46,"y":0.303},{"x":-0.457,"y":0.301},{"x":-0.453,"y":0.2994},{"x":-0.449,"y":0.3},{"x":-0.441,"y":0.316},{"x":-0.439,"y":0.329},{"x":-0.434,"y":0.284},{"x":-0.427,"y":0.276},{"x":-0.423,"y":0.303},{"x":-0.413,"y":0.295},{"x":-0.408,"y":0.267},{"x":-0.391,"y":0.301},{"x":-0.347,"y":0.31},{"x":-0.345,"y":0.298},{"x":-0.338,"y":0.276},{"x":-0.33,"y":0.291},{"x":-0.324,"y":0.316},{"x":-0.3,"y":0.31},{"x":-0.293,"y":0.308},{"x":-0.259,"y":0.306},{"x":-0.239,"y":0.286},{"x":-0.226,"y":0.276},{"x":-0.217,"y":0.323},{"x":-0.21,"y":0.306},{"x":-0.2,"y":0.301},{"x":-0.177,"y":0.293},{"x":-0.175,"y":0.265},{"x":-0.168,"y":0.316},{"x":-0.166,"y":0.28},{"x":-0.162,"y":0.288},{"x":-0.119,"y":0.262},{"x":-0.109,"y":0.278},{"x":-0.073,"y":0.262},{"x":-0.065,"y":0.286},{"x":-0.058,"y":0.273},{"x":-0.041,"y":0.37},{"x":-0.03,"y":0.305},{"x":-0.016,"y":0.264},{"x":-0.009,"y":0.273},{"x":0.015,"y":0.261},{"x":0.023,"y":0.188},{"x":0.033,"y":0.231},{"x":0.04,"y":0.249},{"x":0.053,"y":0.257},{"x":0.056,"y":0.278},{"x":0.079,"y":0.34},{"x":0.084,"y":0.276},{"x":0.089,"y":0.256},{"x":0.097,"y":0.271},{"x":0.11,"y":0.308},{"x":0.115,"y":0.293},{"x":0.122,"y":0.263},{"x":0.14,"y":0.323},{"x":0.153,"y":0.268},{"x":0.165,"y":0.251},{"x":0.168,"y":0.339},{"x":0.192,"y":0.3},{"x":0.202,"y":0.348},{"x":0.224,"y":0.297},{"x":0.23,"y":0.336},{"x":0.258,"y":0.294},{"x":0.259,"y":0.31},{"x":0.276,"y":0.279},{"x":0.287,"y":0.267},{"x":0.292,"y":0.311},{"x":0.327,"y":0.335},{"x":0.335,"y":0.268},{"x":0.35,"y":0.293},{"x":0.359,"y":0.341},{"x":0.385,"y":0.3},{"x":0.39,"y":0.319},{"x":0.395,"y":0.326},{"x":0.422,"y":0.351},{"x":0.428,"y":0.331},{"x":0.435,"y":0.296},{"x":0.438,"y":0.316},{"x":0.442,"y":0.311},{"x":0.447,"y":0.31},{"x":0.46,"y":0.306},{"x":0.464,"y":0.305},{"x":0.468,"y":0.3025},{"x":0.472,"y":0.302},{"x":0.476,"y":0.301},{"x":0.48,"y":0.301},{"x":0.484,"y":0.2994},{"x":0.488,"y":0.3},{"x":0.492,"y":0.2984},{"x":0.496,"y":0.298},{"x":0.5,"y":0.296},{"x":0.504,"y":0.2942},{"x":0.508,"y":0.293},{"x":0.511,"y":0.2921},{"x":0.514,"y":0.293},{"x":0.518,"y":0.296},{"x":0.521,"y":0.2984},{"x":0.525,"y":0.302},{"x":0.529,"y":0.3046},{"x":0.533,"y":0.305},{"x":0.536,"y":0.3046},{"x":0.54,"y":0.303},{"x":0.543,"y":0.301},{"x":0.547,"y":0.2994},{"x":0.551,"y":0.3},{"x":0.559,"y":0.316},{"x":0.562,"y":0.329},{"x":0.567,"y":0.284},{"x":0.574,"y":0.276},{"x":0.578,"y":0.303},{"x":0.588,"y":0.295},{"x":0.593,"y":0.267}],
"m4":[{"x":-0.6,"y":-0.0558},{"x":-0.544,"y":-0.0558},{"x":-0.52,"y":0.013},{"x":-0.477,"y":0.013},{"x":-0.453,"y":-0.0558},{"x":-0.044,"y":-0.052},{"x":-0.038,"y":-0.0193},{"x":-0.03,"y":0.048},{"x":-0.023,"y":0.085},{"x":-0.019,"y":0.091},{"x":0,"y":0.0926},{"x":0.018,"y":0.0926},{"x":0.021,"y":0.085},{"x":0.027,"y":0.048},{"x":0.034,"y":-0.014},{"x":0.041,"y":-0.045},{"x":0.045,"y":-0.052},{"x":0.457,"y":-0.0558},{"x":0.478,"y":0.013},{"x":0.523,"y":0.013},{"x":0.545,"y":-0.0558},{"x":0.6,"y":-0.0558}]
},
"vconcat":[
{"width":665,"height":352,
"layer":[
{"data":{"name":"d1"},"mark":{"type":"point","filled":true,"color":"black","size":46,"opacity":1,"clip":true},
"encoding":{"x":{"field":"x","type":"quantitative","scale":{"domain":[-0.6,0.6],"nice":false,"zero":false},"axis":{"orient":"bottom","values":[-0.6,-0.4,-0.2,0,0.2,0.4,0.6],"tickSize":-7,"labelPadding":25,"labelExpr":"(datum.value < 0.001 ? '-' : '') + format(abs(datum.value), '.1f')","title":"Phase","titlePadding":2}},
"y":{"field":"y","type":"quantitative","scale":{"domain":[-0.02,0.25],"nice":false,"zero":false,"reverse":true},"axis":{"orient":"left","values":[0,0.05,0.1,0.15,0.2,0.25],"tickSize":-13,"labelPadding":22,"labelExpr":"format(datum.value, '.2f')","title":"I diff","titlePadding":18}}}},
{"data":{"name":"r1"},"mark":{"type":"point","shape":"diamond","filled":true,"color":"black","size":22,"opacity":1,"clip":true},
"encoding":{"x":{"field":"x","type":"quantitative","scale":{"domain":[-0.6,0.6],"nice":false,"zero":false},"axis":{"orient":"top","values":[-0.6,-0.4,-0.2,0,0.2,0.4,0.6],"tickSize":-7,"labels":false,"title":null}},
"y":{"field":"y","type":"quantitative","scale":{"domain":[-0.02,0.25],"nice":false,"zero":false,"reverse":true},"axis":{"orient":"right","values":[0,0.05,0.1,0.15,0.2,0.25],"tickSize":-13,"labels":false,"title":null}}}},
{"data":{"name":"m1"},"mark":{"type":"line","color":"#ff0000","strokeWidth":1.8,"clip":true},
"encoding":{"x":{"field":"x","type":"quantitative","scale":{"domain":[-0.6,0.6],"nice":false,"zero":false},"axis":{"orient":"bottom","values":[-0.55,-0.5,-0.45,-0.35,-0.3,-0.25,-0.15,-0.1,-0.05,0.05,0.1,0.15,0.25,0.3,0.35,0.45,0.5,0.55],"tickSize":-3.5,"labels":false,"title":null}},
"y":{"field":"y","type":"quantitative","scale":{"domain":[-0.02,0.25],"nice":false,"zero":false,"reverse":true},"axis":{"orient":"left","values":[-0.01,0.01,0.02,0.03,0.04,0.06,0.07,0.08,0.09,0.11,0.12,0.13,0.14,0.16,0.17,0.18,0.19,0.21,0.22,0.23,0.24],"tickSize":-6.5,"labels":false,"title":null}}}},
{"data":{"values":[{"x":-0.5486,"y":0.153,"t":"rms = 0.0049 mag"}]},"mark":{"type":"text","align":"left","baseline":"middle","fontSize":22,"font":"Liberation Sans","color":"black"},
"encoding":{"text":{"field":"t"},"x":{"field":"x","type":"quantitative","scale":{"domain":[-0.6,0.6],"nice":false,"zero":false},"axis":{"orient":"top","values":[-0.55,-0.5,-0.45,-0.35,-0.3,-0.25,-0.15,-0.1,-0.05,0.05,0.1,0.15,0.25,0.3,0.35,0.45,0.5,0.55],"tickSize":-3.5,"labels":false,"title":null}},
"y":{"field":"y","type":"quantitative","scale":{"domain":[-0.02,0.25],"nice":false,"zero":false,"reverse":true},"axis":{"orient":"right","values":[-0.01,0.01,0.02,0.03,0.04,0.06,0.07,0.08,0.09,0.11,0.12,0.13,0.14,0.16,0.17,0.18,0.19,0.21,0.22,0.23,0.24],"tickSize":-6.5,"labels":false,"title":null}}}},
{"data":{"values":[{}]},"mark":{"type":"rule","color":"#ff0000","strokeWidth":1.8},"encoding":{"y":{"datum":0.2249,"type":"quantitative","scale":{"domain":[-0.02,0.25],"nice":false,"zero":false,"reverse":true},"axis":null}}}
],
"resolve":{"axis":{"x":"independent","y":"independent"}}},
{"width":665,"height":352,
"layer":[
{"data":{"name":"d2"},"mark":{"type":"point","filled":true,"color":"black","size":50,"opacity":1,"clip":true},
"encoding":{"x":{"field":"x","type":"quantitative","scale":{"domain":[-0.6,0.6],"nice":false,"zero":false},"axis":{"orient":"bottom","values":[-0.6,-0.4,-0.2,0,0.2,0.4,0.6],"tickSize":-7,"labelPadding":25,"labelExpr":"(datum.value < 0.001 ? '-' : '') + format(abs(datum.value), '.1f')","title":"Phase","titlePadding":2}},
"y":{"field":"y","type":"quantitative","scale":{"domain":[-0.08,0.35],"nice":false,"zero":false,"reverse":true},"axis":{"orient":"left","values":[0,0.1,0.2,0.3],"tickSize":-13,"labelPadding":22,"labelExpr":"format(datum.value, '.1f')","title":"J diff","titlePadding":18}}}},
{"data":{"name":"r2"},"mark":{"type":"point","shape":"diamond","filled":true,"color":"black","size":25,"opacity":1,"clip":true},
"encoding":{"x":{"field":"x","type":"quantitative","scale":{"domain":[-0.6,0.6],"nice":false,"zero":false},"axis":{"orient":"top","values":[-0.6,-0.4,-0.2,0,0.2,0.4,0.6],"tickSize":-7,"labels":false,"title":null}},
"y":{"field":"y","type":"quantitative","scale":{"domain":[-0.08,0.35],"nice":false,"zero":false,"reverse":true},"axis":{"orient":"right","values":[0,0.1,0.2,0.3],"tickSize":-13,"labels":false,"title":null}}}},
{"data":{"name":"m2"},"mark":{"type":"line","color":"#ff0000","strokeWidth":1.6,"clip":true},
"encoding":{"x":{"field":"x","type":"quantitative","scale":{"domain":[-0.6,0.6],"nice":false,"zero":false},"axis":{"orient":"bottom","values":[-0.55,-0.5,-0.45,-0.35,-0.3,-0.25,-0.15,-0.1,-0.05,0.05,0.1,0.15,0.25,0.3,0.35,0.45,0.5,0.55],"tickSize":-3.5,"labels":false,"title":null}},
"y":{"field":"y","type":"quantitative","scale":{"domain":[-0.08,0.35],"nice":false,"zero":false,"reverse":true},"axis":{"orient":"left","values":[-0.06,-0.04,-0.02,0.02,0.04,0.06,0.08,0.12,0.14,0.16,0.18,0.22,0.24,0.26,0.28,0.32,0.34],"tickSize":-6.5,"labels":false,"title":null}}}},
{"data":{"values":[{"x":-0.5486,"y":0.197,"t":"rms = 0.1014 mag"}]},"mark":{"type":"text","align":"left","baseline":"middle","fontSize":22,"font":"Liberation Sans","color":"black"},
"encoding":{"text":{"field":"t"},"x":{"field":"x","type":"quantitative","scale":{"domain":[-0.6,0.6],"nice":false,"zero":false},"axis":{"orient":"top","values":[-0.55,-0.5,-0.45,-0.35,-0.3,-0.25,-0.15,-0.1,-0.05,0.05,0.1,0.15,0.25,0.3,0.35,0.45,0.5,0.55],"tickSize":-3.5,"labels":false,"title":null}},
"y":{"field":"y","type":"quantitative","scale":{"domain":[-0.08,0.35],"nice":false,"zero":false,"reverse":true},"axis":{"orient":"right","values":[-0.06,-0.04,-0.02,0.02,0.04,0.06,0.08,0.12,0.14,0.16,0.18,0.22,0.24,0.26,0.28,0.32,0.34],"tickSize":-6.5,"labels":false,"title":null}}}},
{"data":{"values":[{}]},"mark":{"type":"rule","color":"#ff0000","strokeWidth":1.6},"encoding":{"y":{"datum":0.3,"type":"quantitative","scale":{"domain":[-0.08,0.35],"nice":false,"zero":false,"reverse":true},"axis":null}}}
],
"resolve":{"axis":{"x":"independent","y":"independent"}}},
{"width":665,"height":352,
"layer":[
{"data":{"name":"d3"},"mark":{"type":"point","filled":true,"color":"black","size":50,"opacity":1,"clip":true},
"encoding":{"x":{"field":"x","type":"quantitative","scale":{"domain":[-0.6,0.6],"nice":false,"zero":false},"axis":{"orient":"bottom","values":[-0.6,-0.4,-0.2,0,0.2,0.4,0.6],"tickSize":-7,"labelPadding":25,"labelExpr":"(datum.value < 0.001 ? '-' : '') + format(abs(datum.value), '.1f')","title":"Phase","titlePadding":2}},
"y":{"field":"y","type":"quantitative","scale":{"domain":[-0.11,0.4],"nice":false,"zero":false,"reverse":true},"axis":{"orient":"left","values":[-0.1,0,0.1,0.2,0.3,0.4],"tickSize":-13,"labelPadding":22,"labelExpr":"(datum.value < -0.001 ? '-' : '') + format(abs(datum.value), '.1f')","title":"[3.6] diff","titlePadding":18}}}},
{"data":{"name":"r3"},"mark":{"type":"point","shape":"diamond","filled":true,"color":"black","size":25,"opacity":1,"clip":true},
"encoding":{"x":{"field":"x","type":"quantitative","scale":{"domain":[-0.6,0.6],"nice":false,"zero":false},"axis":{"orient":"top","values":[-0.6,-0.4,-0.2,0,0.2,0.4,0.6],"tickSize":-7,"labels":false,"title":null}},
"y":{"field":"y","type":"quantitative","scale":{"domain":[-0.11,0.4],"nice":false,"zero":false,"reverse":true},"axis":{"orient":"right","values":[-0.1,0,0.1,0.2,0.3,0.4],"tickSize":-13,"labels":false,"title":null}}}},
{"data":{"name":"m3"},"mark":{"type":"line","color":"#ff0000","strokeWidth":1.6,"clip":true},
"encoding":{"x":{"field":"x","type":"quantitative","scale":{"domain":[-0.6,0.6],"nice":false,"zero":false},"axis":{"orient":"bottom","values":[-0.55,-0.5,-0.45,-0.35,-0.3,-0.25,-0.15,-0.1,-0.05,0.05,0.1,0.15,0.25,0.3,0.35,0.45,0.5,0.55],"tickSize":-3.5,"labels":false,"title":null}},
"y":{"field":"y","type":"quantitative","scale":{"domain":[-0.11,0.4],"nice":false,"zero":false,"reverse":true},"axis":{"orient":"left","values":[-0.08,-0.06,-0.04,-0.02,0.02,0.04,0.06,0.08,0.12,0.14,0.16,0.18,0.22,0.24,0.26,0.28,0.32,0.34,0.36,0.38],"tickSize":-6.5,"labels":false,"title":null}}}},
{"data":{"values":[{"x":-0.5486,"y":0.217,"t":"rms = 0.0303 mag"}]},"mark":{"type":"text","align":"left","baseline":"middle","fontSize":22,"font":"Liberation Sans","color":"black"},
"encoding":{"text":{"field":"t"},"x":{"field":"x","type":"quantitative","scale":{"domain":[-0.6,0.6],"nice":false,"zero":false},"axis":{"orient":"top","values":[-0.55,-0.5,-0.45,-0.35,-0.3,-0.25,-0.15,-0.1,-0.05,0.05,0.1,0.15,0.25,0.3,0.35,0.45,0.5,0.55],"tickSize":-3.5,"labels":false,"title":null}},
"y":{"field":"y","type":"quantitative","scale":{"domain":[-0.11,0.4],"nice":false,"zero":false,"reverse":true},"axis":{"orient":"right","values":[-0.08,-0.06,-0.04,-0.02,0.02,0.04,0.06,0.08,0.12,0.14,0.16,0.18,0.22,0.24,0.26,0.28,0.32,0.34,0.36,0.38],"tickSize":-6.5,"labels":false,"title":null}}}},
{"data":{"values":[{}]},"mark":{"type":"rule","color":"#ff0000","strokeWidth":1.6},"encoding":{"y":{"datum":0.3,"type":"quantitative","scale":{"domain":[-0.11,0.4],"nice":false,"zero":false,"reverse":true},"axis":null}}}
],
"resolve":{"axis":{"x":"independent","y":"independent"}}},
{"width":665,"height":352,
"layer":[
{"data":{"name":"d4"},"mark":{"type":"point","filled":true,"color":"black","size":50,"opacity":1,"clip":true},
"encoding":{"x":{"field":"x","type":"quantitative","scale":{"domain":[-0.6,0.6],"nice":false,"zero":false},"axis":{"orient":"bottom","values":[-0.6,-0.4,-0.2,0,0.2,0.4,0.6],"tickSize":-7,"labelPadding":25,"labelExpr":"(datum.value < 0.001 ? '-' : '') + format(abs(datum.value), '.1f')","title":"Phase","titlePadding":2}},
"y":{"field":"y","type":"quantitative","scale":{"domain":[-0.15,0.4],"nice":false,"zero":false,"reverse":true},"axis":{"orient":"left","values":[-0.1,0,0.1,0.2,0.3,0.4],"tickSize":-13,"labelPadding":22,"labelExpr":"(datum.value < -0.001 ? '-' : '') + format(abs(datum.value), '.1f')","title":"[4.5] diff","titlePadding":18}}}},
{"data":{"name":"r4"},"mark":{"type":"point","shape":"diamond","filled":true,"color":"black","size":25,"opacity":1,"clip":true},
"encoding":{"x":{"field":"x","type":"quantitative","scale":{"domain":[-0.6,0.6],"nice":false,"zero":false},"axis":{"orient":"top","values":[-0.6,-0.4,-0.2,0,0.2,0.4,0.6],"tickSize":-7,"labels":false,"title":null}},
"y":{"field":"y","type":"quantitative","scale":{"domain":[-0.15,0.4],"nice":false,"zero":false,"reverse":true},"axis":{"orient":"right","values":[-0.1,0,0.1,0.2,0.3,0.4],"tickSize":-13,"labels":false,"title":null}}}},
{"data":{"name":"m4"},"mark":{"type":"line","color":"#ff0000","strokeWidth":1.6,"clip":true},
"encoding":{"x":{"field":"x","type":"quantitative","scale":{"domain":[-0.6,0.6],"nice":false,"zero":false},"axis":{"orient":"bottom","values":[-0.55,-0.5,-0.45,-0.35,-0.3,-0.25,-0.15,-0.1,-0.05,0.05,0.1,0.15,0.25,0.3,0.35,0.45,0.5,0.55],"tickSize":-3.5,"labels":false,"title":null}},
"y":{"field":"y","type":"quantitative","scale":{"domain":[-0.15,0.4],"nice":false,"zero":false,"reverse":true},"axis":{"orient":"left","values":[-0.14,-0.12,-0.08,-0.06,-0.04,-0.02,0.02,0.04,0.06,0.08,0.12,0.14,0.16,0.18,0.22,0.24,0.26,0.28,0.32,0.34,0.36,0.38],"tickSize":-6.5,"labels":false,"title":null}}}},
{"data":{"values":[{"x":-0.5486,"y":0.202,"t":"rms = 0.0200 mag"}]},"mark":{"type":"text","align":"left","baseline":"middle","fontSize":22,"font":"Liberation Sans","color":"black"},
"encoding":{"text":{"field":"t"},"x":{"field":"x","type":"quantitative","scale":{"domain":[-0.6,0.6],"nice":false,"zero":false},"axis":{"orient":"top","values":[-0.55,-0.5,-0.45,-0.35,-0.3,-0.25,-0.15,-0.1,-0.05,0.05,0.1,0.15,0.25,0.3,0.35,0.45,0.5,0.55],"tickSize":-3.5,"labels":false,"title":null}},
"y":{"field":"y","type":"quantitative","scale":{"domain":[-0.15,0.4],"nice":false,"zero":false,"reverse":true},"axis":{"orient":"right","values":[-0.14,-0.12,-0.08,-0.06,-0.04,-0.02,0.02,0.04,0.06,0.08,0.12,0.14,0.16,0.18,0.22,0.24,0.26,0.28,0.32,0.34,0.36,0.38],"tickSize":-6.5,"labels":false,"title":null}}}},
{"data":{"values":[{}]},"mark":{"type":"rule","color":"#ff0000","strokeWidth":1.6},"encoding":{"y":{"datum":0.3,"type":"quantitative","scale":{"domain":[-0.15,0.4],"nice":false,"zero":false,"reverse":true},"axis":null}}}
],
"resolve":{"axis":{"x":"independent","y":"independent"}}}
]
}
